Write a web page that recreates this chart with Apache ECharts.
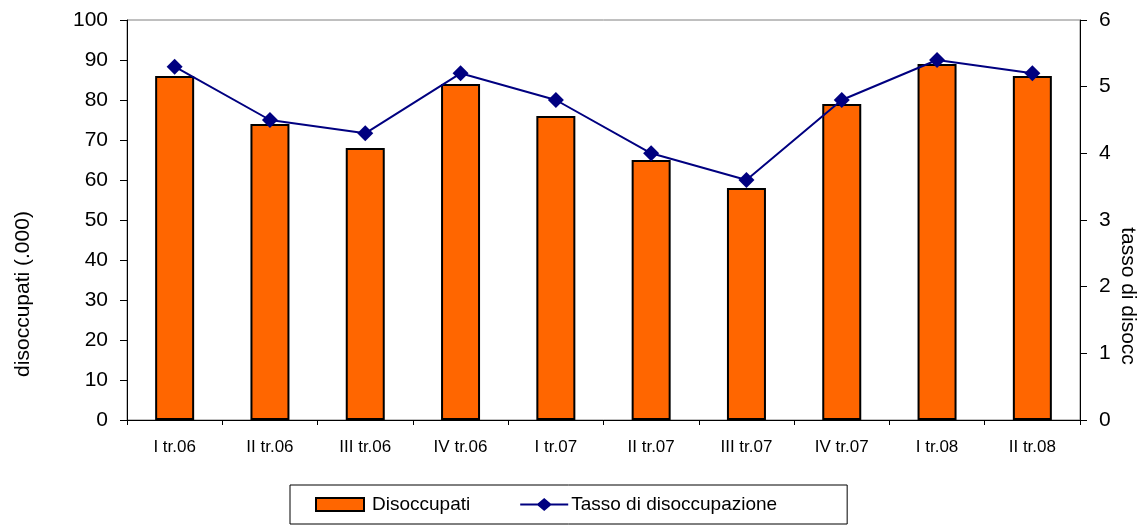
<!DOCTYPE html>
<html>
<head>
<meta charset="utf-8">
<script src="https://cdn.jsdelivr.net/npm/echarts@6/dist/echarts.min.js"></script>
<style>html,body{margin:0;padding:0;background:#fff}#c{width:1145px;height:529px}</style>
</head>
<body>
<div id="c"></div>
<script>
const categories = ['I tr.06','II tr.06','III tr.06','IV tr.06','I tr.07','II tr.07','III tr.07','IV tr.07','I tr.08','II tr.08'];
const disoccupati = [86, 74, 68, 84, 76, 65, 58, 79, 89, 86];
const tasso = [5.3, 4.5, 4.3, 5.2, 4.8, 4.0, 3.6, 4.8, 5.4, 5.2];
const FONT = '"Liberation Sans", Arial, sans-serif';
const chart = echarts.init(document.getElementById('c'));
chart.setOption({
  animation: false,
  textStyle: {fontFamily: FONT, color: '#000'},
  grid: {left: 127, right: 65, top: 20, bottom: 109, show: true, borderColor: '#808080', borderWidth: 1},
  legend: {
    left: 290, top: 485, width: 560, height: 42,
    padding: [10, 70, 10, 25],
    borderColor: '#000', borderWidth: 1,
    itemGap: 50, itemWidth: 48, itemHeight: 13,
    textStyle: {fontFamily: FONT, fontSize: 19, color: '#000', padding: [0,0,0,3]},
    data: [
      {name: 'Disoccupati', icon: 'rect'},
      {name: 'Tasso di disoccupazione', icon: 'path://M0,5.5 L17.5,5.5 L24,0 L30.5,5.5 L48,5.5 L48,7.5 L30.5,7.5 L24,13 L17.5,7.5 L0,7.5 Z', itemStyle: {color: '#000080', borderWidth: 0}, textStyle: {padding: [0,0,0,-2]}}
    ]
  },
  xAxis: {
    type: 'category', data: categories,
    axisLine: {lineStyle: {color: '#000', width: 1}},
    axisTick: {show: true, alignWithLabel: false, length: 5, lineStyle: {color: '#000'}},
    axisLabel: {fontSize: 17, color: '#000', margin: 19, fontFamily: FONT}
  },
  yAxis: [
    {
      type: 'value', min: 0, max: 100, interval: 10,
      axisLine: {show: true, lineStyle: {color: '#000'}},
      axisTick: {show: true, length: 7, lineStyle: {color: '#000'}},
      axisLabel: {fontSize: 21, color: '#000', margin: 19, fontFamily: FONT},
      splitLine: {show: false}
    },
    {
      type: 'value', min: 0, max: 6, interval: 1, position: 'right',
      axisLine: {show: true, lineStyle: {color: '#000'}},
      axisTick: {show: true, length: 7, lineStyle: {color: '#000'}},
      axisLabel: {fontSize: 21, color: '#000', margin: 19, fontFamily: FONT},
      splitLine: {show: false}
    }
  ],
  graphic: [
    {type: 'text', rotation: Math.PI/2, x: 23, y: 294, style: {text: 'disoccupati (.000)', font: '21px ' + FONT, fill: '#000', align: 'center', verticalAlign: 'middle'}},
    {type: 'text', rotation: -Math.PI/2, x: 1128, y: 296, style: {text: 'tasso di disocc', font: '21px ' + FONT, fill: '#000', align: 'center', verticalAlign: 'middle'}}
  ],
  series: [
    {
      name: 'Disoccupati', type: 'bar', data: disoccupati, barWidth: 39, yAxisIndex: 0,
      itemStyle: {color: '#FF6600', borderColor: '#000', borderWidth: 2}
    },
    {
      name: 'Tasso di disoccupazione', type: 'line', data: tasso, yAxisIndex: 1,
      symbol: 'diamond', symbolSize: 16,
      lineStyle: {color: '#000080', width: 2},
      itemStyle: {color: '#000080'}
    }
  ]
});
</script>
</body>
</html>
